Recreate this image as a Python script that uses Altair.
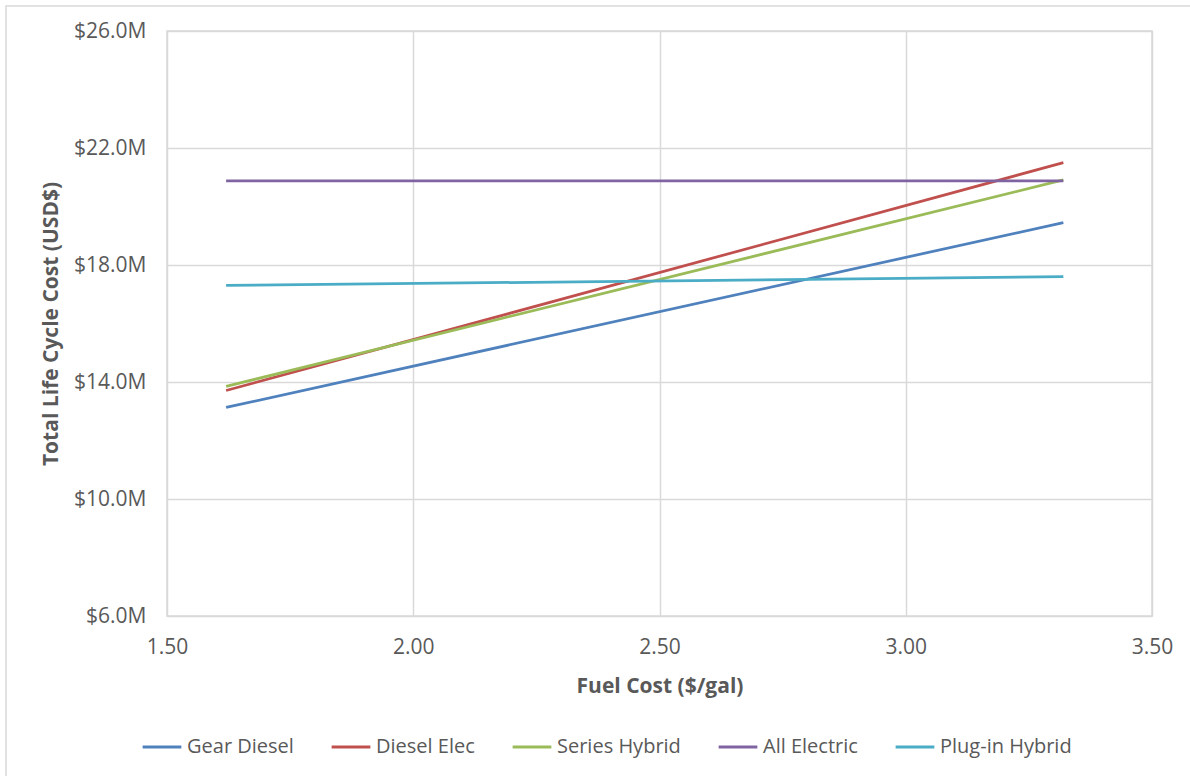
import altair as alt
import pandas as pd

fuel_cost = [1.62, 3.32]
series_names = ["Gear Diesel", "Diesel Elec", "Series Hybrid", "All Electric", "Plug-in Hybrid"]
gear_diesel = [13.13, 19.45]
diesel_elec = [13.71, 21.50]
series_hybrid = [13.85, 20.91]
all_electric = [20.88, 20.88]
plugin_hybrid = [17.30, 17.60]
colors = ["#4F81BD", "#C0504D", "#9BBB59", "#8064A2", "#4BACC6"]

values = [gear_diesel, diesel_elec, series_hybrid, all_electric, plugin_hybrid]
rows = []
for name, vals in zip(series_names, values):
    for x, y in zip(fuel_cost, vals):
        rows.append({"series": name, "fuel": x, "cost": y})
df = pd.DataFrame(rows)

FONT = "Open Sans"
TXT = "#595959"
GRID = "#D9D9D9"

lines = alt.Chart(df).mark_line(strokeWidth=2.75).encode(
    x=alt.X("fuel:Q",
            scale=alt.Scale(domain=[1.5, 3.5], nice=False),
            axis=alt.Axis(title="Fuel Cost ($/gal)", values=[1.5, 2.0, 2.5, 3.0, 3.5],
                          format=".2f", labelPadding=20, titlePadding=18, labelFlush=False)),
    y=alt.Y("cost:Q",
            scale=alt.Scale(domain=[6, 26], nice=False, zero=False),
            axis=alt.Axis(title="Total Life Cycle Cost (USD$)", values=[6, 10, 14, 18, 22, 26],
                          labelExpr="'$' + format(datum.value, '.1f') + 'M'",
                          labelPadding=21, titleX=-106, labelFlush=False)),
    color=alt.Color("series:N",
                    scale=alt.Scale(domain=series_names, range=colors),
                    sort=series_names,
                    legend=alt.Legend(title=None, orient="none", direction="horizontal",
                                      legendX=-26, legendY=695,
                                      symbolType="stroke", symbolSize=1500, symbolStrokeWidth=3,
                                      labelOffset=4, columnPadding=31,
                                      labelFont=FONT, labelFontSize=20, labelColor=TXT,
                                      labelLimit=300)),
    detail="series:N",
)

border = alt.Chart(alt.Data(values=[{}])).mark_rect(
    fill=None, stroke=GRID, strokeWidth=1.5
).encode(
    x=alt.value(-161), x2=alt.value(1300), y=alt.value(-25), y2=alt.value(900)
)

chart = alt.layer(border, lines).properties(
    width=985, height=585,
    padding={"left": 167, "top": 31, "right": 38, "bottom": 160},
    autosize="none",
    background="white",
).configure_view(
    stroke=GRID, strokeWidth=1.5
).configure_axis(
    grid=True, gridColor=GRID, gridWidth=1.5,
    domain=False, ticks=False,
    labelFont=FONT, labelFontSize=21, labelColor=TXT,
    titleFont=FONT, titleFontSize=21, titleFontWeight="bold", titleColor=TXT,
)

chart.save("out.html", embed_options={"renderer": "svg", "actions": False})
